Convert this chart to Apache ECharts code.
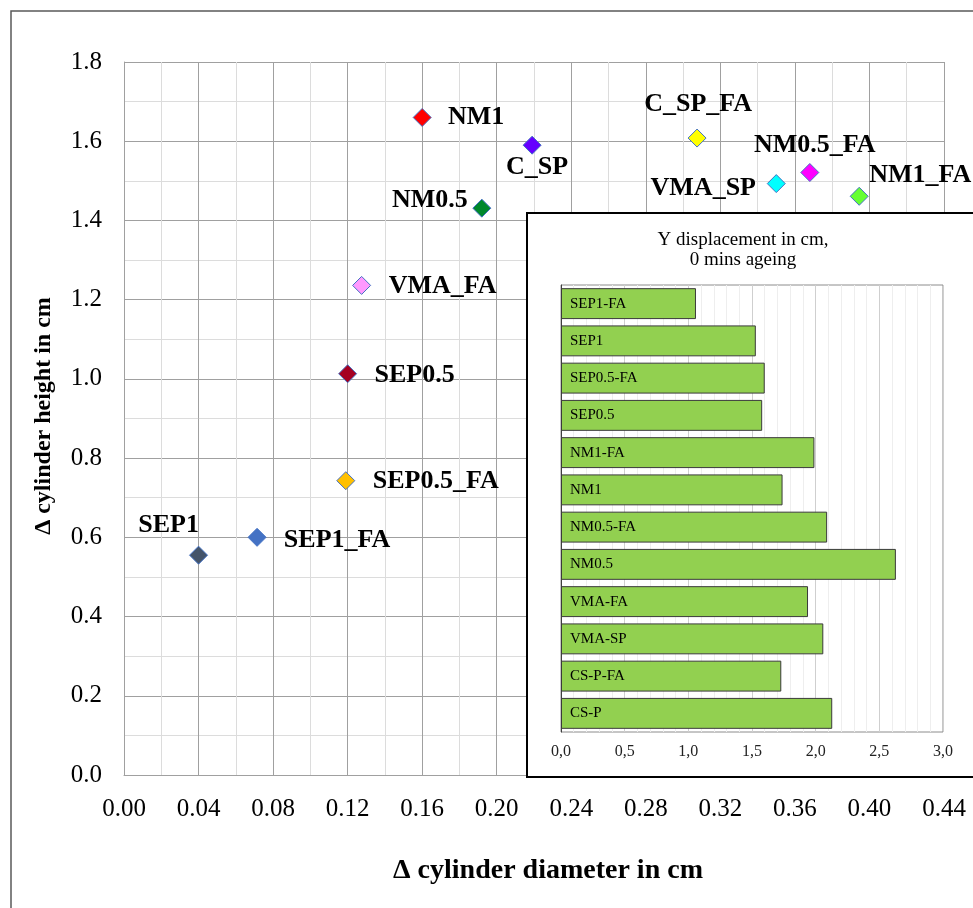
<!DOCTYPE html>
<html>
<head>
<meta charset="utf-8">
<script src="https://cdn.jsdelivr.net/npm/echarts@6/dist/echarts.min.js"></script>
<style>html,body{margin:0;padding:0;background:#fff}#c{width:973px;height:908px}</style>
</head>
<body>
<div id="c"></div>
<script>
// ---- main scatter data ----
const pointNames = ['SEP1','SEP1_FA','SEP0.5_FA','SEP0.5','VMA_FA','NM0.5','NM1','C_SP','C_SP_FA','VMA_SP','NM0.5_FA','NM1_FA'];
const diameterDelta = [0.040, 0.0714, 0.119, 0.120, 0.1275, 0.192, 0.160, 0.219, 0.3075, 0.350, 0.368, 0.3945];
const heightDelta = [0.555, 0.600, 0.743, 1.013, 1.236, 1.431, 1.660, 1.590, 1.608, 1.493, 1.521, 1.461];
const xTicks = [0.00,0.04,0.08,0.12,0.16,0.20,0.24,0.28,0.32,0.36,0.40,0.44];
const yTicks = [0.0,0.2,0.4,0.6,0.8,1.0,1.2,1.4,1.6,1.8];

// ---- inset bar data ----
const barCategories = ['SEP1-FA','SEP1','SEP0.5-FA','SEP0.5','NM1-FA','NM1','NM0.5-FA','NM0.5','VMA-FA','VMA-SP','CS-P-FA','CS-P'];
const yDisplacement = [1.06, 1.53, 1.60, 1.58, 1.99, 1.74, 2.09, 2.63, 1.94, 2.06, 1.73, 2.13];
const barTicks = [0.0,0.5,1.0,1.5,2.0,2.5,3.0];

// ---- styles (not data) ----
const pointColors = {
  'SEP1':'#44546A','SEP1_FA':'#4472C4','SEP0.5_FA':'#FFC000','SEP0.5':'#A50021',
  'VMA_FA':'#FF99FF','NM0.5':'#00882B','NM1':'#FF0000','C_SP':'#6600FF',
  'C_SP_FA':'#FFFF00','VMA_SP':'#00FFFF','NM0.5_FA':'#FF00FF','NM1_FA':'#66FF33'
};
const labelOffsets = {
  'SEP1':[-30,-30],'SEP1_FA':[80,3],'SEP0.5_FA':[90,1],'SEP0.5':[67,2],
  'VMA_FA':[81,1],'NM0.5':[-52,-8],'NM1':[54,0],'C_SP':[5,22],
  'C_SP_FA':[1,-34],'VMA_SP':[-73,5],'NM0.5_FA':[5,-27],'NM1_FA':[61,-21]
};
const SERIF = '"Liberation Serif","DejaVu Serif",serif';

const scatterData = pointNames.map((n,i)=>({
  name:n, value:[diameterDelta[i], heightDelta[i]],
  itemStyle:{color:pointColors[n]},
  label:{offset:labelOffsets[n]}
}));

const chart = echarts.init(document.getElementById('c'), null, {renderer:'canvas'});
chart.setOption({
  animation:false,
  backgroundColor:'#fff',
  grid:[
    {left:124, top:62, right:29, bottom:133, outerBoundsMode:'none', containLabel:false, z:0},
    {left:561, top:285, right:30, bottom:176, outerBoundsMode:'none', containLabel:false,
     show:true, backgroundColor:'rgba(0,0,0,0)', borderColor:'#8c8c8c', borderWidth:1, z:3}
  ],
  xAxis:[
    {gridIndex:0, type:'value', min:xTicks[0], max:xTicks[xTicks.length-1], interval:0.04,
     axisLine:{show:true, lineStyle:{color:'#a0a0a0', width:1}}, axisTick:{show:false},
     axisLabel:{fontFamily:SERIF, fontSize:25, color:'#000', margin:22, formatter:v=>v.toFixed(2)},
     splitLine:{show:true, lineStyle:{color:'#a0a0a0', width:1}},
     minorTick:{show:false, splitNumber:2},
     minorSplitLine:{show:true, lineStyle:{color:'#dcdcdc', width:1}}},
    {gridIndex:1, type:'value', min:barTicks[0], max:barTicks[barTicks.length-1], interval:0.5, z:3,
     axisLine:{show:false}, axisTick:{show:false},
     axisLabel:{fontFamily:SERIF, fontSize:16, color:'#222', margin:12, formatter:v=>v.toFixed(1).replace('.',',')},
     splitLine:{show:true, lineStyle:{color:'#cfcfcf', width:1}},
     minorTick:{show:false, splitNumber:5},
     minorSplitLine:{show:true, lineStyle:{color:'#eeeeee', width:1}}}
  ],
  yAxis:[
    {gridIndex:0, type:'value', min:yTicks[0], max:yTicks[yTicks.length-1], interval:0.2,
     axisLine:{show:true, lineStyle:{color:'#a0a0a0', width:1}}, axisTick:{show:false},
     axisLabel:{fontFamily:SERIF, fontSize:25, color:'#000', margin:22, formatter:v=>v.toFixed(1)},
     splitLine:{show:true, lineStyle:{color:'#a0a0a0', width:1}},
     minorTick:{show:false, splitNumber:2},
     minorSplitLine:{show:true, lineStyle:{color:'#dcdcdc', width:1}}},
    {gridIndex:1, type:'category', data:barCategories, inverse:true, z:3,
     axisLine:{show:true, lineStyle:{color:'#404040', width:1}}, axisTick:{show:false},
     axisLabel:{show:false}, splitLine:{show:false}}
  ],
  graphic:[
    {type:'rect', z:-1, silent:true, shape:{x:11, y:11, width:1100, height:1100},
     style:{fill:'none', stroke:'#595959', lineWidth:1.5}},
    {type:'rect', z:1, silent:true, shape:{x:527, y:213, width:500, height:564},
     style:{fill:'#fff', stroke:'#000', lineWidth:2}},
    {type:'text', z:5, silent:true, x:743, y:250,
     style:{text:'Y displacement in cm,\n0 mins ageing', fontFamily:SERIF, fontSize:19, lineHeight:20,
            fill:'#000', align:'center', verticalAlign:'middle'}},
    {type:'text', z:5, silent:true, x:548, y:871,
     style:{text:'Δ cylinder diameter in cm', fontFamily:SERIF, fontSize:28, fontWeight:'bold',
            fill:'#000', align:'center', verticalAlign:'middle'}},
    {type:'text', z:5, silent:true, x:44, y:416, rotation:Math.PI/2,
     style:{text:'Δ cylinder height in cm', fontFamily:SERIF, fontSize:24, fontWeight:'bold',
            fill:'#000', align:'center', verticalAlign:'middle'}}
  ],
  series:[
    {type:'scatter', xAxisIndex:0, yAxisIndex:0, symbol:'diamond', symbolSize:[18,18], z:2,
     itemStyle:{borderColor:'#4472C4', borderWidth:1, opacity:1},
     label:{show:true, position:'inside', formatter:p=>p.name, fontFamily:SERIF, fontSize:26,
            fontWeight:'bold', color:'#000', opacity:1, align:'center', verticalAlign:'middle'},
     data:scatterData},
    {type:'bar', xAxisIndex:1, yAxisIndex:1, z:4, barCategoryGap:'17%',
     itemStyle:{color:'#92D050', borderColor:'#3a3a3a', borderWidth:1},
     label:{show:true, position:'insideLeft', distance:9, formatter:p=>p.name, fontFamily:SERIF,
            fontSize:15, color:'#000'},
     data:yDisplacement}
  ]
});
</script>
</body>
</html>
